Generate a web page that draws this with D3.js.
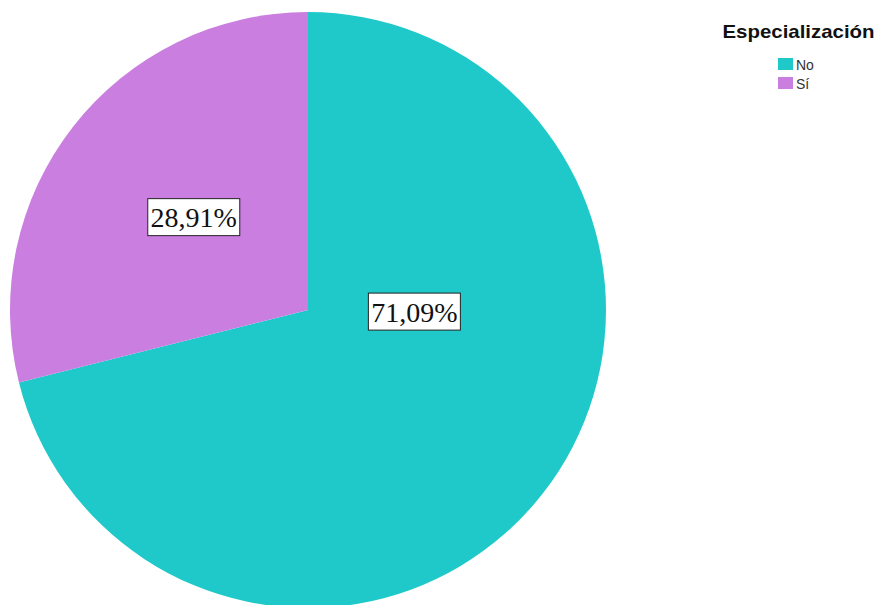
<!DOCTYPE html>
<html>
<head>
  <meta charset="UTF-8">
  <script src="https://d3js.org/d3.v7.min.js"></script>
  <style>
    body { margin: 0; background: #fff; }
  </style>
</head>
<body>
  <svg width="878" height="605" id="pie"></svg>

  <script>
    // data
    let categories = ["No", "Sí"];
    let percents = [71.09, 28.91];
    let labels = ["71,09%", "28,91%"];
    let colors = ["#1fc9c9", "#c97ee0"];
    let legendTitle = "Especialización";

    let svg = d3.select("#pie");
    let cx = 308, cy = 310, radius = 298;

    let pie = d3.pie().sort(null).value(d => d.value);
    let arcs = pie(categories.map((c, i) => ({ name: c, value: percents[i] })));

    let arc = d3.arc().innerRadius(0).outerRadius(radius);

    let color = d3.scaleOrdinal().domain(categories).range(colors);

    let chart = svg.append("g")
      .attr("transform", `translate(${cx}, ${cy})`);

    chart.selectAll("path")
      .data(arcs)
      .enter()
      .append("path")
      .attr("d", arc)
      .attr("fill", d => color(d.data.name));

    // label spots (SPSS puts them a bit oddly, so tweak per slice)
    function labelPos(d) {
      if (d.data.name === "Sí") {
        let mid = (d.startAngle + d.endAngle) / 2 + 0.02;
        return d3.pointRadial(mid, radius * 0.494);
      }
      return d3.pointRadial(Math.PI / 2 + 0.015, radius * 0.357);
    }

    let lab = chart.selectAll(".label")
      .data(arcs)
      .enter()
      .append("g")
      .attr("class", "label")
      .attr("transform", d => {
        let p = labelPos(d);
        return `translate(${p[0]}, ${p[1]})`;
      });

    lab.append("rect")
      .attr("x", -46)
      .attr("y", -18.5)
      .attr("width", 92)
      .attr("height", 37)
      .attr("fill", "#fff")
      .attr("stroke", "#222")
      .attr("stroke-width", 1);

    lab.append("text")
      .attr("text-anchor", "middle")
      .attr("y", 10)
      .attr("font-family", "Liberation Serif, Times New Roman, serif")
      .attr("font-size", 28)
      .attr("fill", "#111")
      .text((d, i) => labels[i]);

    // legend
    let legend = svg.append("g");
    legend.append("text")
      .attr("x", 798.5)
      .attr("y", 38)
      .attr("text-anchor", "middle")
      .attr("font-family", "Liberation Sans, Arial, sans-serif")
      .attr("font-weight", "bold")
      .attr("font-size", 19)
      .attr("textLength", 152)
      .attr("lengthAdjust", "spacingAndGlyphs")
      .attr("fill", "#111")
      .text(legendTitle);

    let items = legend.selectAll(".item")
      .data(categories)
      .enter()
      .append("g")
      .attr("class", "item")
      .attr("transform", (d, i) => `translate(778, ${58 + i * 19})`);

    items.append("rect")
      .attr("width", 15)
      .attr("height", 12)
      .attr("fill", d => color(d));

    items.append("text")
      .attr("x", 18)
      .attr("y", 12)
      .attr("font-family", "Liberation Sans, Arial, sans-serif")
      .attr("font-size", 14)
      .attr("fill", "#333")
      .text(d => d);
  </script>
</body>
</html>
